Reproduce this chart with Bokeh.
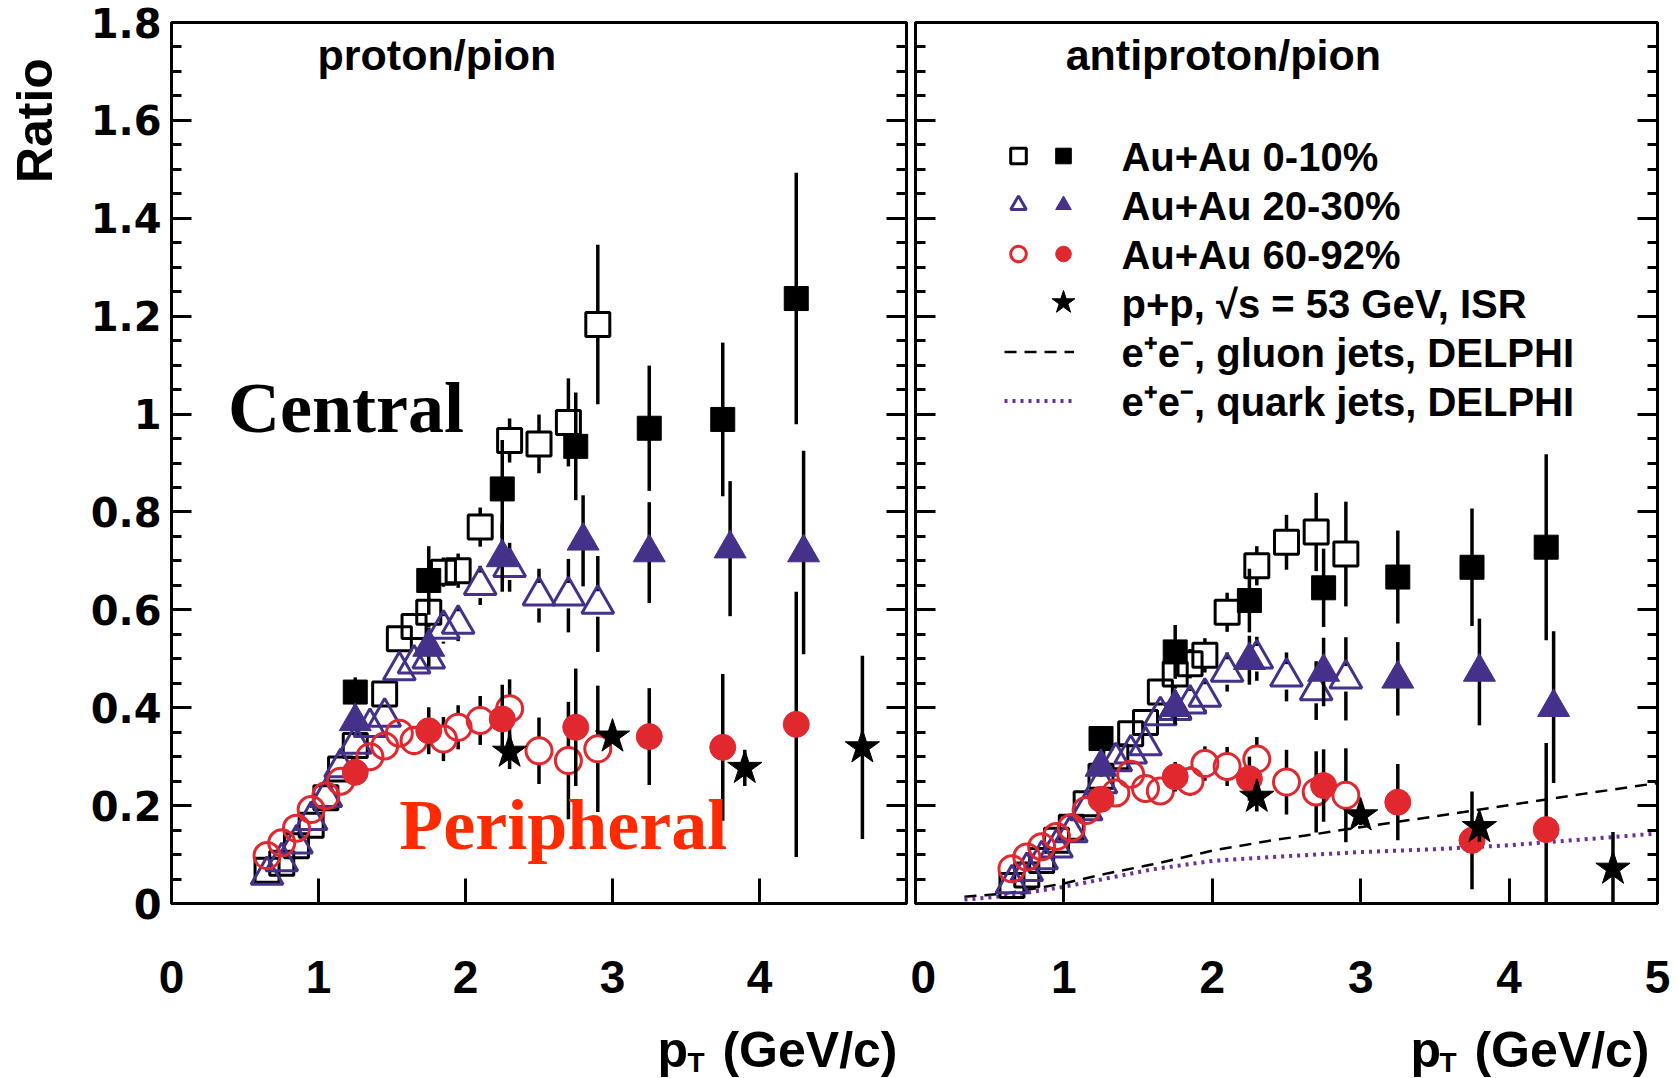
from math import pi
import numpy as np
from bokeh.plotting import figure
from bokeh.models import Range1d, FixedTicker, LinearAxis, Label, Legend, LegendItem
from bokeh.layouts import row, column
from bokeh.embed import file_html
from bokeh.resources import INLINE

# ---------------- data: proton/pion (left panel) ----------------
pp_os_x = [0.65, 0.75, 0.85, 0.95, 1.05, 1.15, 1.25, 1.45, 1.55, 1.65, 1.75, 1.85, 1.95, 2.1, 2.3, 2.5, 2.7, 2.9]
pp_os_y = [0.068, 0.082, 0.118, 0.160, 0.216, 0.275, 0.323, 0.428, 0.541, 0.566, 0.595, 0.677, 0.680, 0.769, 0.946, 0.939, 0.983, 1.183]
pp_os_e = [0.01, 0.01, 0.01, 0.01, 0.01, 0.015, 0.015, 0.02, 0.025, 0.025, 0.03, 0.03, 0.035, 0.04, 0.045, 0.06, 0.09, 0.163]

pp_fs_x = [1.25, 1.75, 2.25, 2.75, 3.25, 3.75, 4.25]
pp_fs_y = [0.432, 0.660, 0.847, 0.934, 0.971, 0.989, 1.236]
pp_fs_e = [0.03, 0.07, 0.10, 0.11, 0.128, 0.157, 0.257]

pp_ot_x = [0.65, 0.75, 0.85, 0.95, 1.05, 1.15, 1.25, 1.35, 1.45, 1.55, 1.65, 1.75, 1.85, 1.95, 2.1, 2.3, 2.5, 2.7, 2.9]
pp_ot_y = [0.058, 0.086, 0.122, 0.170, 0.217, 0.278, 0.326, 0.360, 0.381, 0.476, 0.490, 0.500, 0.561, 0.571, 0.650, 0.687, 0.629, 0.629, 0.612]
pp_ot_e = [0.01, 0.01, 0.01, 0.01, 0.012, 0.015, 0.015, 0.02, 0.02, 0.025, 0.025, 0.03, 0.03, 0.035, 0.04, 0.05, 0.055, 0.075, 0.098]

pp_ft_x = [1.25, 1.75, 2.25, 2.8, 3.25, 3.8, 4.3]
pp_ft_y = [0.372, 0.524, 0.707, 0.741, 0.717, 0.725, 0.717]
pp_ft_e = [0.02, 0.04, 0.07, 0.093, 0.103, 0.138, 0.208]

pp_oc_x = [0.65, 0.75, 0.85, 0.95, 1.05, 1.15, 1.35, 1.45, 1.55, 1.65, 1.85, 1.95, 2.1, 2.3, 2.5, 2.7, 2.9]
pp_oc_y = [0.098, 0.124, 0.154, 0.192, 0.220, 0.250, 0.300, 0.322, 0.348, 0.333, 0.336, 0.360, 0.374, 0.398, 0.312, 0.292, 0.316]
pp_oc_e = [0.01, 0.01, 0.01, 0.01, 0.012, 0.015, 0.02, 0.02, 0.025, 0.03, 0.045, 0.045, 0.05, 0.06, 0.068, 0.12, 0.129]

pp_fc_x = [1.25, 1.75, 2.25, 2.75, 3.25, 3.75, 4.25]
pp_fc_y = [0.268, 0.353, 0.377, 0.360, 0.341, 0.319, 0.366]
pp_fc_e = [0.02, 0.048, 0.07, 0.12, 0.099, 0.15, 0.271]

pp_st_x = [2.3, 3.0, 3.9, 4.7]
pp_st_y = [0.310, 0.341, 0.277, 0.319]
pp_st_e = [0.035, 0.012, 0.037, 0.187]

# ---------------- data: antiproton/pion (right panel) ----------------
ap_os_x = [0.65, 0.75, 0.85, 0.95, 1.05, 1.15, 1.25, 1.35, 1.45, 1.55, 1.65, 1.75, 1.85, 1.95, 2.1, 2.3, 2.5, 2.7, 2.9]
ap_os_y = [0.037, 0.058, 0.088, 0.129, 0.156, 0.204, 0.26, 0.30, 0.347, 0.37, 0.432, 0.469, 0.49, 0.507, 0.595, 0.69, 0.738, 0.759, 0.714]
ap_os_e = [0.005, 0.005, 0.008, 0.01, 0.01, 0.012, 0.015, 0.015, 0.02, 0.02, 0.025, 0.03, 0.03, 0.035, 0.04, 0.04, 0.056, 0.08, 0.107]

ap_fs_x = [1.25, 1.75, 2.25, 2.75, 3.25, 3.75, 4.25]
ap_fs_y = [0.337, 0.514, 0.619, 0.645, 0.667, 0.687, 0.728]
ap_fs_e = [0.025, 0.055, 0.065, 0.08, 0.095, 0.12, 0.19]

ap_ot_x = [0.65, 0.75, 0.85, 0.95, 1.05, 1.15, 1.25, 1.35, 1.45, 1.55, 1.65, 1.75, 1.85, 1.95, 2.1, 2.3, 2.5, 2.7, 2.9]
ap_ot_y = [0.041, 0.066, 0.090, 0.114, 0.145, 0.190, 0.245, 0.29, 0.306, 0.323, 0.384, 0.395, 0.408, 0.422, 0.473, 0.50, 0.463, 0.435, 0.459]
ap_ot_e = [0.005, 0.005, 0.008, 0.01, 0.01, 0.012, 0.015, 0.015, 0.02, 0.02, 0.025, 0.03, 0.03, 0.035, 0.04, 0.045, 0.05, 0.06, 0.085]

ap_ft_x = [1.25, 1.75, 2.25, 2.75, 3.25, 3.8, 4.3]
ap_ft_y = [0.279, 0.401, 0.497, 0.473, 0.459, 0.473, 0.401]
ap_ft_e = [0.02, 0.035, 0.05, 0.07, 0.075, 0.109, 0.155]

ap_oc_x = [0.65, 0.75, 0.85, 0.95, 1.05, 1.15, 1.35, 1.45, 1.55, 1.65, 1.85, 1.95, 2.1, 2.3, 2.5, 2.7, 2.9]
ap_oc_y = [0.071, 0.095, 0.116, 0.137, 0.155, 0.190, 0.226, 0.264, 0.235, 0.230, 0.250, 0.286, 0.280, 0.295, 0.248, 0.228, 0.221]
ap_oc_e = [0.008, 0.008, 0.01, 0.01, 0.012, 0.015, 0.02, 0.02, 0.025, 0.025, 0.03, 0.035, 0.04, 0.045, 0.066, 0.083, 0.096]

ap_fc_x = [1.25, 1.75, 2.25, 2.75, 3.25, 3.75, 4.25]
ap_fc_y = [0.213, 0.259, 0.255, 0.241, 0.207, 0.129, 0.151]
ap_fc_e = [0.02, 0.03, 0.045, 0.074, 0.078, 0.10, 0.177]

ap_st_x = [2.3, 3.0, 3.8, 4.7]
ap_st_y = [0.218, 0.180, 0.156, 0.071]
ap_st_e = [0.03, 0.02, 0.03, 0.075]

# e+e- DELPHI curves (right panel)
gluon_x = [0.33, 0.6, 1.0, 1.3, 1.6, 2.0, 2.4, 2.7, 3.0, 3.5, 4.0, 4.5, 5.0]
gluon_y = [0.014, 0.020, 0.041, 0.062, 0.080, 0.108, 0.129, 0.142, 0.156, 0.178, 0.201, 0.224, 0.246]
quark_x = [0.33, 0.6, 1.0, 1.3, 1.6, 2.0, 2.4, 2.7, 3.0, 3.5, 4.0, 4.5, 5.0]
quark_y = [0.008, 0.015, 0.034, 0.052, 0.070, 0.087, 0.095, 0.100, 0.105, 0.111, 0.119, 0.131, 0.143]

# ticks / labels
y_ticks = [0, 0.2, 0.4, 0.6, 0.8, 1.0, 1.2, 1.4, 1.6, 1.8]
y_tick_labels = ["0", "0.2", "0.4", "0.6", "0.8", "1", "1.2", "1.4", "1.6", "1.8"]
y_minor = [round(i * 0.05, 2) for i in range(37) if i % 4]
x_ticks_left = [0, 1, 2, 3, 4]
x_ticks_right = [0, 1, 2, 3, 4, 5]

legend_labels = ["Au+Au 0-10%", "Au+Au 20-30%", "Au+Au 60-92%",
                 "p+p, \u221as = 53 GeV, ISR",
                 "e\u207ae\u207b, gluon jets, DELPHI",
                 "e\u207ae\u207b, quark jets, DELPHI"]

# ---------------- style ----------------
PURPLE = "#45308a"
RED = "#e1282f"
DOTPURPLE = "#6d2f9c"
SANS = "Liberation Sans"
PH = 1015          # panel figure height
BH = 63            # height of strip holding the x-axis titles
RW = 68            # width of strip holding the y-axis title
PX_PER_Y = 881 / 1.8
GAP = 0.026        # half marker height (data units) where error bars stop at open markers
BASE_SHIFT = 0.33  # anchor-to-baseline correction (fraction of font size)


def style_axes(p, xticks, show_ylabels):
    xa = p.xaxis[0]
    xa.ticker = FixedTicker(ticks=xticks, minor_ticks=[])
    xa.major_tick_in = 25
    xa.major_tick_out = 0
    xa.minor_tick_in = 0
    xa.minor_tick_out = 0
    xa.axis_line_width = 3
    xa.major_tick_line_width = 3
    xa.major_label_standoff = 57
    xa.major_label_text_font = SANS
    xa.major_label_text_font_style = "bold"
    xa.major_label_text_font_size = "46px"
    xa.major_label_text_color = "black"

    ya = p.yaxis[0]
    ya.ticker = FixedTicker(ticks=y_ticks, minor_ticks=y_minor)
    ya.major_tick_in = 20
    ya.major_tick_out = 0
    ya.minor_tick_in = 10
    ya.minor_tick_out = 0
    ya.axis_line_width = 3
    ya.major_tick_line_width = 3
    ya.minor_tick_line_width = 3
    if show_ylabels:
        ya.major_label_overrides = dict(zip(y_ticks, y_tick_labels))
        ya.major_label_standoff = 10
        ya.major_label_text_font = "DejaVu Sans"
        ya.major_label_text_font_style = "bold"
        ya.major_label_text_font_size = "40px"
        ya.major_label_text_color = "black"
    else:
        ya.major_label_text_font_size = "0px"
        ya.major_label_text_color = None
        ya.major_label_standoff = 0

    ra = LinearAxis(ticker=FixedTicker(ticks=y_ticks, minor_ticks=y_minor),
                    major_tick_in=20, major_tick_out=0, minor_tick_in=10, minor_tick_out=0,
                    axis_line_width=3, major_tick_line_width=3, minor_tick_line_width=3,
                    major_label_text_font_size="0px", major_label_text_color=None,
                    major_label_standoff=0)
    p.add_layout(ra, "right")


def make_fig(width, bl, br, xticks, show_ylabels):
    p = figure(width=width, height=PH, x_range=Range1d(0, 5), y_range=Range1d(0, 1.8),
               output_backend="svg", toolbar_location=None,
               min_border_left=bl, min_border_right=br, min_border_top=22, min_border_bottom=112,
               background_fill_color="white", border_fill_color="white")
    p.grid.visible = False
    p.outline_line_color = "black"
    p.outline_line_width = 3
    style_axes(p, xticks, show_ylabels)
    return p


def text_strip(width, height):
    s = figure(width=width, height=height, x_range=Range1d(0, width), y_range=Range1d(0, height),
               output_backend="svg", toolbar_location=None, x_axis_type=None, y_axis_type=None,
               min_border=0, outline_line_color=None)
    s.grid.visible = False
    return s


def bars_open(p, x, y, e):
    x = np.asarray(x); y = np.asarray(y); e = np.asarray(e)
    top0 = y + GAP
    top1 = np.maximum(y + e, top0)
    bot0 = y - GAP
    bot1 = np.minimum(y - e, bot0)
    p.segment(x0=x, y0=top0, x1=x, y1=top1, line_color="black", line_width=3.5)
    p.segment(x0=x, y0=bot0, x1=x, y1=bot1, line_color="black", line_width=3.5)


def bars_full(p, x, y, e):
    x = np.asarray(x); y = np.asarray(y); e = np.asarray(e)
    p.segment(x0=x, y0=y - e, x1=x, y1=y + e, line_color="black", line_width=3.5)


def draw_panel(p, d):
    r = {}
    bars_open(p, *d["os"])
    r["os"] = p.scatter(d["os"][0], d["os"][1], marker="square", size=24, fill_color=None,
                        line_color="black", line_width=3)
    bars_full(p, *d["fs"])
    r["fs"] = p.scatter(d["fs"][0], d["fs"][1], marker="square", size=24, fill_color="black",
                        line_color="black")
    bars_open(p, *d["ot"])
    r["ot"] = p.scatter(d["ot"][0], d["ot"][1], marker="triangle", size=32, fill_color=None,
                        line_color=PURPLE, line_width=3)
    bars_full(p, *d["ft"])
    r["ft"] = p.scatter(d["ft"][0], d["ft"][1], marker="triangle", size=32, fill_color=PURPLE,
                        line_color=PURPLE)
    bars_open(p, *d["oc"])
    r["oc"] = p.scatter(d["oc"][0], d["oc"][1], marker="circle", size=26, fill_color=None,
                        line_color=RED, line_width=3)
    bars_full(p, *d["fc"])
    r["fc"] = p.scatter(d["fc"][0], d["fc"][1], marker="circle", size=26, fill_color=RED,
                        line_color=RED)
    bars_full(p, *d["st"])
    r["st"] = p.scatter(d["st"][0], d["st"][1], marker="star", size=36, fill_color="black",
                        line_color="black")
    return r


def lab(p, y_base, size_px, scale=PX_PER_Y, **kw):
    """Label whose text baseline sits at y_base."""
    kw.setdefault("text_font", SANS)
    kw.setdefault("text_font_style", "bold")
    kw.setdefault("text_color", "black")
    kw.setdefault("text_baseline", "alphabetic")
    y = y_base + BASE_SHIFT * size_px / scale
    p.add_layout(Label(y=y, text_font_size=f"{size_px}px", **kw))


# ---------------- y-axis title strip ----------------
pr = text_strip(RW, PH)
pr.add_layout(Label(x=51 - BASE_SHIFT * 50, y=PH - 41, text="Ratio", angle=pi / 2,
                    text_align="right", text_baseline="alphabetic", text_font=SANS,
                    text_font_style="bold", text_font_size="50px", text_color="black"))

# ---------------- left panel ----------------
p1 = make_fig(910 - RW, 171 - RW, 4, x_ticks_left, True)
draw_panel(p1, {"os": (pp_os_x, pp_os_y, pp_os_e), "fs": (pp_fs_x, pp_fs_y, pp_fs_e),
                "ot": (pp_ot_x, pp_ot_y, pp_ot_e), "ft": (pp_ft_x, pp_ft_y, pp_ft_e),
                "oc": (pp_oc_x, pp_oc_y, pp_oc_e), "fc": (pp_fc_x, pp_fc_y, pp_fc_e),
                "st": (pp_st_x, pp_st_y, pp_st_e)})

# ---------------- right panel ----------------
p2 = make_fig(762, 5, 15, x_ticks_right, False)
rg = p2.line(gluon_x, gluon_y, line_color="black", line_width=2.5, line_dash="12 8")
rq = p2.line(quark_x, quark_y, line_color=DOTPURPLE, line_width=4, line_dash="3 5")
r2 = draw_panel(p2, {"os": (ap_os_x, ap_os_y, ap_os_e), "fs": (ap_fs_x, ap_fs_y, ap_fs_e),
                     "ot": (ap_ot_x, ap_ot_y, ap_ot_e), "ft": (ap_ft_x, ap_ft_y, ap_ft_e),
                     "oc": (ap_oc_x, ap_oc_y, ap_oc_e), "fc": (ap_fc_x, ap_fc_y, ap_fc_e),
                     "st": (ap_st_x, ap_st_y, ap_st_e)})


def key_legend(renderers, location, gw, gh):
    lg = Legend(items=[LegendItem(label=" ", renderers=[r]) for r in renderers],
                location=location, glyph_width=gw, glyph_height=gh, label_height=gh,
                label_standoff=0, spacing=10, padding=0, margin=0,
                border_line_color=None, background_fill_alpha=0,
                label_text_font_size="10px", label_text_color=None)
    p2.add_layout(lg)


key_legend([r2["os"], r2["ot"], r2["oc"]], (83, 630), 40, 39)      # open markers column
key_legend([r2["fs"], r2["ft"], r2["fc"]], (128, 630), 40, 39)     # filled markers column
key_legend([r2["st"]], (118, 571), 60, 60)                          # star
key_legend([rg, rq], (89, 483), 70, 39)                             # DELPHI lines

legend_text_x = 1.388
legend_base_y = [1.499, 1.398, 1.298, 1.197, 1.098, 0.998]
for t, yb in zip(legend_labels, legend_base_y):
    lab(p2, yb, 40, x=legend_text_x, text=t)

lab(p1, 1.705, 43, x=1.806, text="proton/pion", text_align="center")
lab(p2, 1.705, 43, x=2.074, text="antiproton/pion", text_align="center")
lab(p1, 0.963, 72, x=0.385, text="Central", text_font="Liberation Serif")
lab(p1, 0.112, 72, x=1.55, text="Peripheral", text_font="Liberation Serif", text_color="#ff2a00")

# ---------------- strip with the x-axis titles ----------------
pb = text_strip(1672, BH)
for xp, xt, xr in [(657, 687, 897), (1410, 1439, 1649)]:
    lab(pb, 12, 50, scale=1, x=xp, text="p")
    lab(pb, 7, 28, scale=1, x=xt, text="T")
    lab(pb, 12, 50, scale=1, x=xr, text="(GeV/c)", text_align="right")

layout = column(row(pr, p1, p2), pb)
open("out.html", "w").write(file_html(layout, INLINE))
